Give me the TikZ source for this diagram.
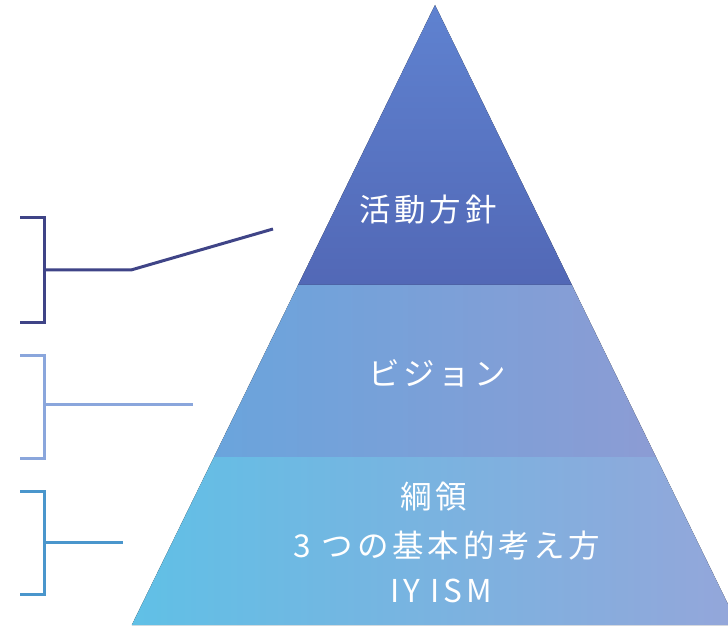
\documentclass[tikz,border=0pt]{standalone}
\usepackage{fontspec}
\newfontfamily\cjk[LetterSpace=12]{Noto Sans CJK JP}
\definecolor{navy}{HTML}{3F4487}
\definecolor{lav}{HTML}{8AA6DC}
\definecolor{sky}{HTML}{4A96CC}
\definecolor{tA}{HTML}{5F82D0}\definecolor{tB}{HTML}{5268B6}
\definecolor{mA}{HTML}{6AA4DC}\definecolor{mB}{HTML}{8C9CD4}
\definecolor{bA}{HTML}{60C0E6}\definecolor{bB}{HTML}{94A6DA}
\begin{document}
\begin{tikzpicture}[x=1pt,y=-1pt,
  lbl/.style={text=white,font=\cjk\fontsize{31.5}{36}\selectfont,inner sep=0pt,anchor=center},
  brk/.style={line width=3pt,line join=miter}]
\useasboundingbox (0,0) rectangle (728,628);
\clip (0,0) rectangle (728,628);
% bands
\fill[top color=tA, bottom color=tB] (435,5) -- (571.9,285) -- (298.1,285) -- cycle;
\fill[left color=mA, right color=mB] (298.1,285) -- (571.9,285) -- (656,457) -- (214,457) -- cycle;
\fill[left color=bA, right color=bB] (214,457) -- (656,457) -- (738.2,625) -- (131.8,625) -- cycle;
% labels
\node[lbl] (t1) at (428,210) {活動方針};
\node[lbl] (t2) at (437,373) {ビジョン};
\node[lbl] (t3) at (434,497) {綱領};
\node[lbl] (t4) at (447,546) {3 つの基本的考え方};
\node[lbl] (t5) at (441,591) {IY ISM};
% brackets
\coordinate (a1) at (20,218); \coordinate (a2) at (20,322);
\coordinate (am) at (44,270); \coordinate (ak) at (131,270); \coordinate (ae) at (273,229);
\draw[brk,navy] (a1) -- (44,218) -- (44,322) -- (a2);
\draw[brk,navy] (am) -- (ak) -- (ae);
\coordinate (b1) at (20,355); \coordinate (b2) at (20,458);
\coordinate (bm) at (44,404); \coordinate (be) at (193,404);
\draw[brk,lav] (b1) -- (44,355) -- (44,458) -- (b2);
\draw[brk,lav] (bm) -- (be);
\coordinate (c1) at (20,491); \coordinate (c2) at (20,594);
\coordinate (cm) at (44,542); \coordinate (ce) at (123,542);
\draw[brk,sky] (c1) -- (44,491) -- (44,594) -- (c2);
\draw[brk,sky] (cm) -- (ce);
\end{tikzpicture}
\end{document}
